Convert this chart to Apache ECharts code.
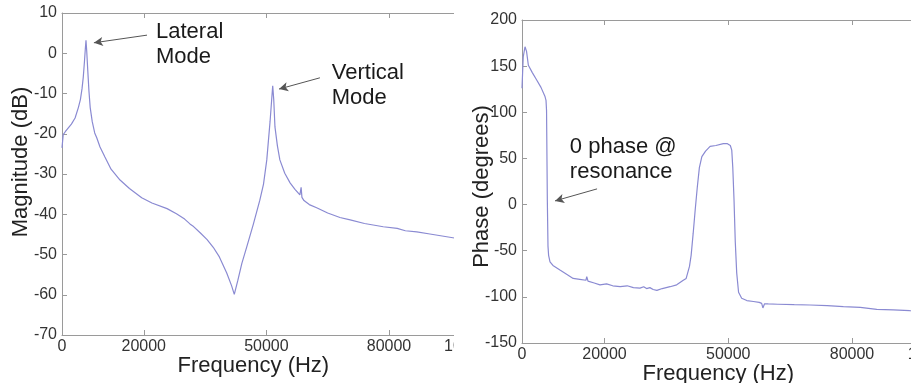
<!DOCTYPE html>
<html>
<head>
<meta charset="utf-8">
<script src="https://cdn.jsdelivr.net/npm/echarts@6/dist/echarts.min.js"></script>
<style>
  html, body { margin: 0; padding: 0; background: #fff; overflow: hidden; }
  #wrapL { position: absolute; left: 0; top: 0; width: 454px; height: 383px; overflow: hidden; }
  #wrapR { position: absolute; left: 454px; top: 0; width: 457px; height: 383px; overflow: hidden; }
  #chartL { width: 560px; height: 400px; }
  #chartR { width: 560px; height: 400px; }
</style>
</head>
<body>
<div id="wrapL"><div id="chartL"></div></div>
<div id="wrapR"><div id="chartR"></div></div>
<script>
// ---- data ----
const xTickValues = [0, 20000, 50000, 80000, 100000];

const magFreq = [0, 300, 800, 1500, 2300, 3200, 4000, 4500, 4900, 5200, 5500, 5700, 5870, 6050, 6300, 6600, 6900, 7400, 8000, 8500, 9300, 10500, 12000, 14200, 16500, 19500, 22000, 25700, 28000, 30000, 31300, 32000, 33800, 35500, 37000, 38500, 40300, 41500, 42150, 43000, 44000, 45200, 46800, 48400, 49300, 50100, 50900, 51300, 51550, 51800, 52100, 52700, 53300, 54500, 55800, 57000, 58200, 58500, 58700, 59200, 60500, 62300, 65000, 68000, 70500, 74000, 78600, 82000, 84000, 86800, 90000, 93000, 96000, 100000];
const magDb = [-23.5, -20.2, -19.5, -18.6, -17.6, -16.1, -13.5, -11.5, -8.8, -6.0, -2.0, 1.0, 3.2, 0.5, -4.2, -9.5, -13.5, -17.0, -19.8, -21.0, -23.3, -25.8, -28.8, -31.5, -33.6, -35.9, -37.2, -38.6, -39.9, -41.2, -42.4, -42.9, -44.6, -46.3, -48.2, -50.6, -54.6, -57.8, -59.9, -56.5, -52.2, -48.1, -42.5, -36.5, -32.5, -26.5, -17.0, -11.5, -8.1, -11.5, -18.3, -23.0, -26.5, -29.8, -32.2, -33.8, -35.2, -33.3, -35.8, -36.6, -37.6, -38.4, -39.7, -40.8, -41.4, -42.3, -43.1, -43.5, -44.1, -44.4, -44.9, -45.4, -45.9, -46.2];

const phFreq = [0, 300, 730, 1100, 1540, 2500, 3560, 4600, 5580, 5820, 5950, 6140, 6300, 6450, 6790, 7500, 9200, 11000, 12400, 14000, 15500, 15700, 16000, 17500, 18900, 20500, 22000, 23800, 25500, 27000, 28600, 29500, 30200, 31000, 31800, 32700, 34000, 35900, 37500, 39100, 39800, 40600, 41000, 41500, 42000, 42500, 43000, 43600, 44500, 45600, 47000, 48800, 49800, 50500, 50850, 51100, 51400, 51700, 52050, 52500, 53250, 54500, 56100, 57500, 58100, 58400, 58800, 59700, 62000, 66000, 69800, 74000, 77900, 82000, 86000, 90000, 94000, 100000];
const phDeg = [126, 160, 171, 166, 151, 143, 135, 127, 117, 113, 102, 5, -45, -55, -62, -66, -71, -76, -80, -81, -82, -78, -83, -85, -87, -86, -88, -89, -88, -90, -90.5, -89, -91, -90, -92, -93, -91, -89, -87, -82, -80, -67, -55, -31, -5, 19, 40, 52, 58, 63, 64, 66, 66, 64, 59, 40, 5, -40, -74, -95, -101.5, -104, -105, -106, -107, -112, -107.5, -107.7, -108, -108.5, -108.8, -109.5, -110.6, -111.5, -113.5, -114, -115, -116];

// annotations (data coordinates)
const magNotes = [
  { text: 'Lateral\nMode', at: [23000, 8.3], from: [20800, 4.5], to: [7800, 2.6] },
  { text: 'Vertical\nMode', at: [66000, -1.7], from: [63100, -6.1], to: [53100, -8.9] }
];
const phNotes = [
  { text: '0 phase @\nresonance', at: [11600, 76], from: [18200, 17], to: [8000, 4] }
];

// ---- styles ----
const FONT = 'Liberation Sans, Arial, Helvetica, sans-serif';
const AXIS_COLOR = '#9a9a9a';
const LINE_COLOR = '#8a8ad2';

function pair(xs, ys) { return xs.map((x, i) => [x, ys[i]]); }

function buildOption(cfg) {
  const xCommon = {
    type: 'value', min: 0, max: 100000,
    axisLine: { show: true, onZero: false, lineStyle: { color: AXIS_COLOR, width: 1 } },
    axisTick: { show: true, inside: true, length: 5, customValues: xTickValues, lineStyle: { color: AXIS_COLOR } },
    splitLine: { show: false }
  };
  return {
    animation: false,
    textStyle: { fontFamily: FONT },
    grid: {
      left: cfg.gridLeft, top: cfg.gridTop, bottom: cfg.gridBottom, right: cfg.gridRight,
      containLabel: false, outerBoundsMode: 'none'
    },
    xAxis: [
      Object.assign({}, xCommon, {
        position: 'bottom',
        name: 'Frequency (Hz)', nameLocation: 'middle', nameGap: 20, nameMoveOverlap: false,
        nameTextStyle: { fontSize: 22, color: '#222', fontFamily: FONT, padding: cfg.xNamePad },
        axisLabel: { customValues: xTickValues, formatter: v => String(v), fontSize: 16, color: '#333', margin: 4, fontFamily: FONT }
      }),
      Object.assign({}, xCommon, { position: 'top', axisLabel: { show: false } })
    ],
    yAxis: {
      type: 'value', min: cfg.yMin, max: cfg.yMax, interval: cfg.yInterval,
      name: cfg.yName, nameLocation: 'middle', nameGap: cfg.yNameGap, nameMoveOverlap: false,
      nameTextStyle: { fontSize: 22, color: '#222', fontFamily: FONT, padding: cfg.yNamePad },
      axisLine: { show: true, onZero: false, lineStyle: { color: AXIS_COLOR } },
      axisTick: { show: true, inside: true, length: 5, lineStyle: { color: AXIS_COLOR } },
      axisLabel: { fontSize: 16, color: '#333', margin: 5, fontFamily: FONT, formatter: v => String(v) },
      splitLine: { show: false }
    },
    series: [{
      type: 'line', xAxisIndex: 0, data: cfg.data, showSymbol: false, symbol: 'none',
      lineStyle: { color: LINE_COLOR, width: 1.2 },
      markLine: {
        silent: true, symbol: ['none', 'arrow'], symbolSize: [7, 9],
        lineStyle: { color: '#555', width: 1, type: 'solid' },
        label: { show: false },
        data: cfg.notes.map(n => [{ coord: n.from }, { coord: n.to }])
      },
      markPoint: {
        silent: true, symbol: 'circle', symbolSize: 0,
        data: cfg.notes.map(n => ({
          coord: n.at,
          label: {
            show: true, formatter: n.text, position: [0, 0], align: 'left', verticalAlign: 'top',
            fontSize: 22, lineHeight: 25, color: '#1a1a1a', fontFamily: FONT
          }
        }))
      }
    }]
  };
}

// chart containers are 560x400, clipped by 454/457 x 383 wrappers
const chartL = echarts.init(document.getElementById('chartL'), null, { renderer: 'canvas' });
chartL.setOption(buildOption({
  gridLeft: 62, gridTop: 13, gridBottom: 65, gridRight: 89.25,
  yMin: -70, yMax: 10, yInterval: 10, yName: 'Magnitude (dB)', yNameGap: 30,
  xNamePad: [0, 26, 0, 0], yNamePad: [0, 0, 0, 24],
  data: pair(magFreq, magDb), notes: magNotes
}));

const chartR = echarts.init(document.getElementById('chartR'), null, { renderer: 'canvas' });
chartR.setOption(buildOption({
  gridLeft: 68, gridTop: 20, gridBottom: 57, gridRight: 79.5,
  yMin: -150, yMax: 200, yInterval: 50, yName: 'Phase (degrees)', yNameGap: 29,
  xNamePad: [0, 20, 0, 0], yNamePad: [0, 10, 0, 0],
  data: pair(phFreq, phDeg), notes: phNotes
}));
</script>
</body>
</html>
